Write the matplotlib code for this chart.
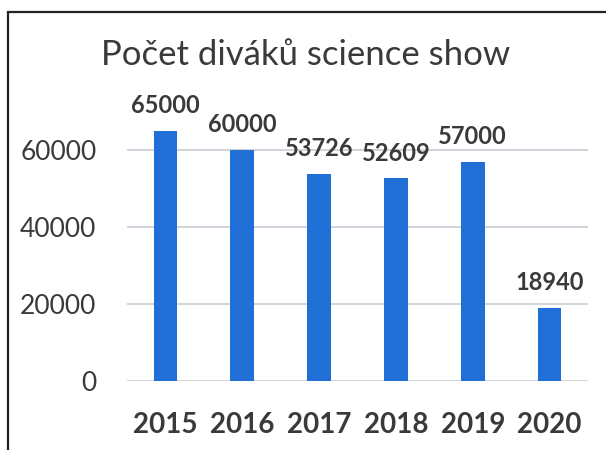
import matplotlib
matplotlib.use("Agg")
from matplotlib import pyplot as plt
from matplotlib.patches import Rectangle

years = ["2015", "2016", "2017", "2018", "2019", "2020"]
viewers = [65000, 60000, 53726, 52609, 57000, 18940]
y_ticks = [0, 20000, 40000, 60000]

TEXT = "#3a3a3a"
BLUE = "#1f6fd6"


def main():
    plt.rcParams['font.family'] = ['Lato', 'DejaVu Sans']
    fig = plt.figure(figsize=(6.06, 4.5), dpi=100)
    ax = fig.add_axes([127 / 606, 69 / 450, 461 / 606, 269.5 / 450])

    x = range(len(years))
    ax.bar(x, viewers, width=0.31, color=BLUE, zorder=3)

    for xi, v in zip(x, viewers):
        ax.annotate(str(v), (xi, v), xytext=(0, 10), textcoords="offset points",
                    ha="center", va="bottom", fontsize=17, fontweight="bold", color=TEXT)

    ax.set_xlim(-0.5, len(years) - 0.5)
    ax.set_ylim(0, 70000)
    ax.set_yticks(y_ticks)
    ax.set_yticklabels([str(t) for t in y_ticks], fontsize=19, color=TEXT)
    ax.set_xticks(list(x))
    ax.set_xticklabels(years, fontsize=20, fontweight="bold", color=TEXT)
    ax.tick_params(length=0)
    ax.tick_params(axis="y", pad=22)
    ax.tick_params(axis="x", pad=22)
    ax.yaxis.grid(True, color="#c9ccd6", linewidth=1.2, zorder=0)
    for s in ax.spines.values():
        s.set_visible(False)

    fig.text(306 / 606, 395 / 450, "Počet diváků science show", ha="center", va="center",
             fontsize=25, fontweight="normal", color=TEXT)

    frame = Rectangle((8 / 606, -0.1), 1.2, 438 / 450 + 0.1,
                      transform=fig.transFigure, fill=False, edgecolor="#222222",
                      linewidth=1.6)
    fig.patches.append(frame)

    fig.savefig("out.png", dpi=100)


if __name__ == "__main__":
    main()
